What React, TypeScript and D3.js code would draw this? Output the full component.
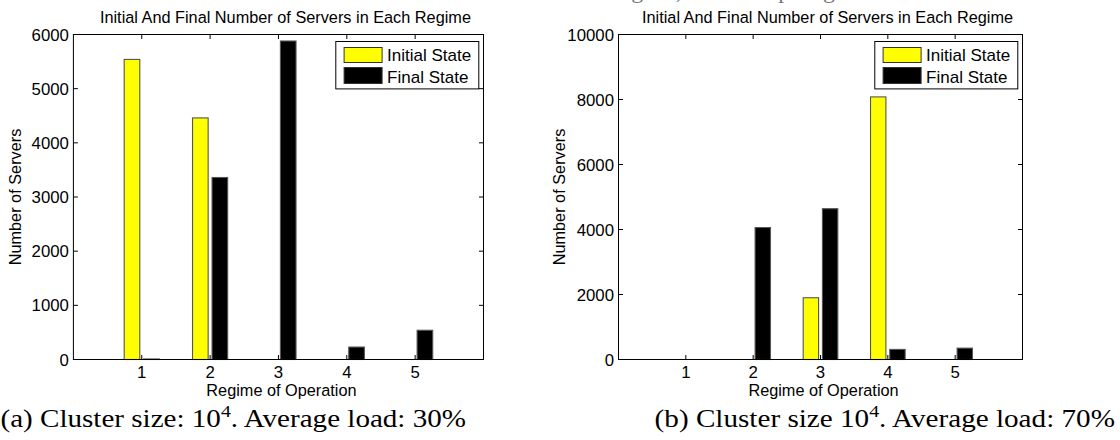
import React from "react";
import * as d3 from "d3";

// ---------- data ----------
const regimes = [1, 2, 3, 4, 5];
const seriesNames = ["Initial State", "Final State"];
const seriesColors = ["#ffff00", "#000000"];

const initialA = [5540, 4460, 0, 0, 0];
const finalA = [10, 3360, 5880, 230, 540];
const yTicksA = [0, 1000, 2000, 3000, 4000, 5000, 6000];

const initialB = [0, 0, 1900, 8080, 0];
const finalB = [0, 4060, 4640, 310, 350];
const yTicksB = [0, 2000, 4000, 6000, 8000, 10000];

const chartTitle = "Initial And Final Number of Servers in Each Regime";
const xLabel = "Regime of Operation";
const yLabel = "Number of Servers";
const topFragment = "initial and final number of servers in each regime, when comparing";

const SANS = "'Liberation Sans', Arial, Helvetica, sans-serif";
const SERIF = "'Liberation Serif', 'Times New Roman', serif";

type PanelProps = {
  x0: number;
  x1: number;
  yMax: number;
  yTicks: number[];
  initial: number[];
  final: number[];
  yLabelX: number;
  capX: number;
  capLen: number;
  capPre: string;
  capPost: string;
};

const yTop = 34.5;
const yBot = 359.5;

function Panel(p: PanelProps) {
  const x = d3.scaleLinear().domain([0, 6]).range([p.x0, p.x1]);
  const y = d3.scaleLinear().domain([0, p.yMax]).range([yBot, yTop]);
  const groupW = 2 / 3.5;
  const barW = (groupW / 2) * 0.8;
  const offsets = [-groupW / 4, groupW / 4];
  const series = [p.initial, p.final];
  const tick = 4.5;
  const cx = (p.x0 + p.x1) / 2;

  const legRight = p.x1 - 4.7;
  const legW = 143;
  const legL = legRight - legW;
  const legT = yTop + 7;

  return (
    <g>
      {/* bars */}
      {series.map((vals, si) =>
        vals.map((v, i) => {
          const r = regimes[i];
          const bx = x(r + offsets[si] - barW / 2);
          const bw = x(barW) - x(0);
          return (
            <rect
              key={`b${si}-${i}`}
              x={bx}
              y={y(v)}
              width={bw}
              height={Math.max(0, y(0) - y(v))}
              fill={seriesColors[si]}
              stroke="#555"
              strokeWidth={1.1}
            />
          );
        })
      )}
      {/* axes box */}
      <rect x={p.x0} y={yTop} width={p.x1 - p.x0} height={yBot - yTop} fill="none" stroke="#000" strokeWidth={1} />
      {/* y ticks */}
      {p.yTicks.map((t) => (
        <g key={`yt${t}`}>
          <line x1={p.x0} x2={p.x0 + tick} y1={y(t)} y2={y(t)} stroke="#000" />
          <line x1={p.x1} x2={p.x1 - tick} y1={y(t)} y2={y(t)} stroke="#000" />
          <text x={p.x0 - 4.5} y={y(t)} dy="0.36em" textAnchor="end" fontFamily={SANS} fontSize={16.8} fill="#000">
            {t}
          </text>
        </g>
      ))}
      {/* x ticks */}
      {regimes.map((r) => (
        <g key={`xt${r}`}>
          <line x1={x(r)} x2={x(r)} y1={yBot} y2={yBot - tick} stroke="#000" />
          <line x1={x(r)} x2={x(r)} y1={yTop} y2={yTop + tick} stroke="#000" />
          <text x={x(r)} y={yBot + 18} textAnchor="middle" fontFamily={SANS} fontSize={16.8} fill="#000">
            {r}
          </text>
        </g>
      ))}
      {/* title & labels */}
      <text x={cx + 7} y={23.3} textAnchor="middle" fontFamily={SANS} fontSize={16.3} fill="#000">
        {chartTitle}
      </text>
      <text x={cx + 3} y={yBot + 36.5} textAnchor="middle" fontFamily={SANS} fontSize={16.3} fill="#000">
        {xLabel}
      </text>
      <text
        transform={`translate(${p.yLabelX},${(yTop + yBot) / 2}) rotate(-90)`}
        textAnchor="middle"
        fontFamily={SANS}
        fontSize={16.3}
        fill="#000"
      >
        {yLabel}
      </text>
      {/* legend */}
      <rect x={legL} y={legT} width={legW} height={47.4} fill="#fff" stroke="#000" strokeWidth={1} />
      {seriesNames.map((name, si) => (
        <g key={name}>
          <rect
            x={legL + 8.3}
            y={legT + (si === 0 ? 6 : 26)}
            width={38}
            height={si === 0 ? 15 : 16}
            fill={seriesColors[si]}
            stroke="#333"
            strokeWidth={1}
          />
          <text x={legL + 51.3} y={legT + (si === 0 ? 19.7 : 41.4)} fontFamily={SANS} fontSize={17} fill="#000">
            {name}
          </text>
        </g>
      ))}
      {/* caption */}
      <text x={p.capX} y={426.5} fontFamily={SERIF} fontSize={25} fill="#000" textLength={p.capLen} lengthAdjust="spacingAndGlyphs">
        {p.capPre}
        <tspan fontSize={17} dy={-10}>4</tspan>
        <tspan dy={10}>{p.capPost}</tspan>
      </text>
    </g>
  );
}

export default function App() {
  return (
    <div style={{ position: "absolute", left: 0, top: 0 }}>
      <svg width={1120} height={440} viewBox="0 0 1120 440" style={{ display: "block", background: "#fff" }}>
        <rect x={0} y={0} width={1120} height={440} fill="#fff" />
        <text x={247} y={-2.5} fontFamily={SERIF} fontSize={24} fill="#777" textLength={588} lengthAdjust="spacing">
          {topFragment}
        </text>
        <Panel
          x0={73.4}
          x1={483.5}
          yMax={6000}
          yTicks={yTicksA}
          initial={initialA}
          final={finalA}
          yLabelX={21}
          capX={0.5}
          capLen={465.5}
          capPre="(a) Cluster size: 10"
          capPost=". Average load: 30%"
        />
        <Panel
          x0={618.5}
          x1={1022.5}
          yMax={10000}
          yTicks={yTicksB}
          initial={initialB}
          final={finalB}
          yLabelX={565}
          capX={654.6}
          capLen={460.4}
          capPre="(b) Cluster size 10"
          capPost=". Average load: 70%"
        />
      </svg>
    </div>
  );
}
